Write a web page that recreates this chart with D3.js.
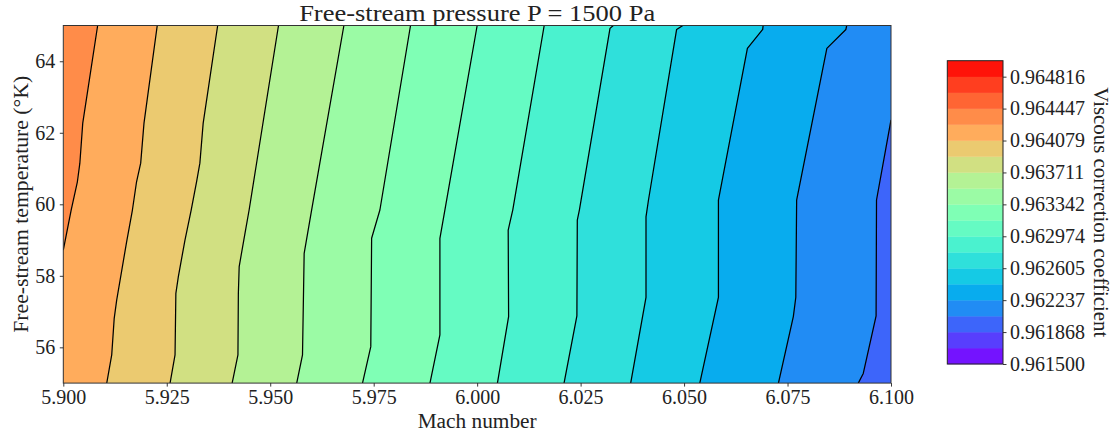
<!DOCTYPE html>
<html>
<head>
<meta charset="utf-8">
<script src="https://cdn.jsdelivr.net/npm/d3@7"></script>
<style>
  html, body { margin: 0; padding: 0; background: #fff; }
  svg text { font-family: "Liberation Serif", "Times New Roman", Times, serif !important; fill: #222; }
</style>
</head>
<body>
<svg id="chart" width="1118" height="438"></svg>
<script>
// ---------- data ----------
const xTicks = [5.900, 5.925, 5.950, 5.975, 6.000, 6.025, 6.050, 6.075, 6.100];
const yTicks = [56, 58, 60, 62, 64];
const levels = [0.9615, 0.9616842, 0.9618684, 0.9620526, 0.9622368, 0.9624211, 0.9626053,
  0.9627895, 0.9629737, 0.9631579, 0.9633421, 0.9635263, 0.9637105, 0.9638947,
  0.9640789, 0.9642632, 0.9644474, 0.9646316, 0.9648158, 0.9650];
const cbTickLabels = ["0.961500", "0.961868", "0.962237", "0.962605", "0.962974",
  "0.963342", "0.963711", "0.964079", "0.964447", "0.964816"];
const topBand = 15; // band index filling the upper-left corner

// contour lines: level index and [Mach, T] points
const lineLevels = [15, 14, 13, 12, 11, 10, 9, 8, 7, 6, 5, 4, 3];
const linePoints = [
  [[5.9083,65],[5.9047,62.27],[5.9040,61.15],[5.9034,60.63],[5.9019,59.84],[5.9000,58.72]],
  [[5.9227,65],[5.9195,62.27],[5.9187,61.15],[5.9177,60.63],[5.9167,59.84],[5.9153,58.95],[5.9129,57.32],[5.9123,56.81],[5.9117,55.79],[5.9105,55]],
  [[5.9373,65],[5.9338,62.27],[5.9330,61.15],[5.9322,60.63],[5.9309,59.84],[5.9294,59.00],[5.9278,57.98],[5.9272,57.51],[5.9270,55.79],[5.9258,55]],
  [[5.9520,65],[5.9449,59.84],[5.9439,59.19],[5.9425,58.26],[5.9423,57.51],[5.9422,55.79],[5.9408,55]],
  [[5.9678,65],[5.9600,59.84],[5.9582,58.63],[5.9578,55.79],[5.9564,55]],
  [[5.9839,65],[5.9765,59.84],[5.9745,59.05],[5.9743,56.02],[5.9723,55]],
  [[6.0000,65],[5.9922,59.84],[5.9910,59.05],[5.9910,56.35],[5.9886,55]],
  [[6.0162,65],[6.0086,59.84],[6.0075,59.28],[6.0076,56.86],[6.0049,55]],
  [[6.0329,65],[6.0321,64.92],[6.0247,59.84],[6.0242,59.56],[6.0241,56.88],[6.0210,55]],
  [[6.0497,65],[6.0482,64.89],[6.0414,60.12],[6.0408,59.65],[6.0408,57.40],[6.0371,55]],
  [[6.0691,65],[6.0690,64.89],[6.0653,64.36],[6.0583,60.12],[6.0583,57.40],[6.0538,55]],
  [[6.0893,65],[6.0891,64.89],[6.0845,64.36],[6.0772,60.12],[6.0770,57.40],[6.0764,56.86],[6.0728,55]],
  [[6.1000,62.36],[6.0965,60.12],[6.0964,56.88],[6.0933,55.27],[6.0921,55]]
];

// ---------- colormap (matplotlib "rainbow") ----------
function rainbow(t) {
  t = Math.floor(t * 255.999) / 255;
  const c = v => Math.round(Math.max(0, Math.min(1, v)) * 255);
  return `rgb(${c(Math.abs(2 * t - 0.5))},${c(Math.sin(Math.PI * t))},${c(Math.cos(Math.PI * t / 2))})`;
}
const lmin = levels[0], lmax = levels[levels.length - 1];
const bandColor = i => rainbow(((levels[i] + levels[i + 1]) / 2 - lmin) / (lmax - lmin));

const SERIF = "'Liberation Serif', 'Times New Roman', Times, serif";

// ---------- layout ----------
const svg = d3.select("#chart");
const L = 63.3, R = 891, T = 25.5, B = 383.1;
const x = d3.scaleLinear().domain([5.9, 6.1]).range([L, R]);
const y = d3.scaleLinear().domain([55, 65]).range([B, T]);

svg.append("defs").append("clipPath").attr("id", "plotclip")
  .append("rect").attr("x", L).attr("y", T).attr("width", R - L).attr("height", B - T);

const plot = svg.append("g").attr("clip-path", "url(#plotclip)");
plot.append("rect").attr("x", L).attr("y", T).attr("width", R - L).attr("height", B - T)
  .attr("fill", bandColor(topBand));

const line = d3.line().x(d => x(d[0])).y(d => y(d[1]));
lineLevels.forEach((lev, i) => {
  const pts = linePoints[i];
  const first = pts[0], last = pts[pts.length - 1];
  const poly = pts.concat([[last[0], 54], [6.2, 54], [6.2, 66], [first[0], 66]]);
  plot.append("path").attr("d", line(poly) + "Z").attr("fill", bandColor(lev - 1))
    .attr("stroke", bandColor(lev - 1)).attr("stroke-width", 0.5);
});
lineLevels.forEach((lev, i) => {
  plot.append("path").attr("d", line(linePoints[i])).attr("fill", "none")
    .attr("stroke", "#000").attr("stroke-width", 1.25).attr("stroke-linejoin", "round");
});

// frame
svg.append("rect").attr("x", L).attr("y", T).attr("width", R - L).attr("height", B - T)
  .attr("fill", "none").attr("stroke", "#333").attr("stroke-width", 1);

// axes
const fmt3 = d3.format(".3f");
const xAxis = svg.append("g").attr("transform", `translate(0,${B})`)
  .call(d3.axisBottom(x).tickValues(xTicks).tickFormat(fmt3).tickSize(3.5).tickPadding(3.5));
const yAxis = svg.append("g").attr("transform", `translate(${L},0)`)
  .call(d3.axisLeft(y).tickValues(yTicks).tickSize(3.5).tickPadding(4.5));
[xAxis, yAxis].forEach(g => {
  g.attr("font-family", null).attr("font-size", null);
  g.select(".domain").remove();
  g.selectAll("line").attr("stroke", "#222").attr("stroke-width", 0.9);
  g.selectAll("text").style("font-size", "20px").style("font-family", SERIF).attr("fill", "#222");
});

// title & labels
svg.append("text").attr("x", (L + R) / 2).attr("y", 21).attr("text-anchor", "middle")
  .style("font-size", "24px").style("font-family", SERIF)
  .attr("textLength", 356).attr("lengthAdjust", "spacingAndGlyphs")
  .text("Free-stream pressure P = 1500 Pa");
svg.append("text").attr("x", (L + R) / 2).attr("y", 428).attr("text-anchor", "middle")
  .style("font-size", "20px").style("font-family", SERIF)
  .attr("textLength", 119).attr("lengthAdjust", "spacingAndGlyphs")
  .text("Mach number");
svg.append("text").attr("transform", `translate(27.5,${(T + B) / 2}) rotate(-90)`)
  .attr("text-anchor", "middle").style("font-size", "20px").style("font-family", SERIF)
  .attr("textLength", 257).attr("lengthAdjust", "spacingAndGlyphs")
  .text("Free-stream temperature (°K)");

// colorbar
const cbL = 947.3, cbR = 1003, cbT = 60.7, cbB = 364;
const cy = d3.scaleLinear().domain([lmin, lmax]).range([cbB, cbT]);
const cb = svg.append("g");
d3.range(levels.length - 1).forEach(i => {
  cb.append("rect").attr("x", cbL).attr("width", cbR - cbL)
    .attr("y", cy(levels[i + 1])).attr("height", cy(levels[i]) - cy(levels[i + 1]) + 0.3)
    .attr("fill", bandColor(i));
});
cb.append("rect").attr("x", cbL).attr("y", cbT).attr("width", cbR - cbL).attr("height", cbB - cbT)
  .attr("fill", "none").attr("stroke", "#222").attr("stroke-width", 1);
const cbTickVals = levels.filter((d, i) => i % 2 === 0 && i < levels.length - 1);
const cbAxis = svg.append("g").attr("transform", `translate(${cbR},0)`)
  .call(d3.axisRight(cy).tickValues(cbTickVals).tickFormat((d, i) => cbTickLabels[i]).tickSize(3.5).tickPadding(3.5));
cbAxis.attr("font-family", null).attr("font-size", null);
cbAxis.select(".domain").remove();
cbAxis.selectAll("line").attr("stroke", "#222").attr("stroke-width", 0.9);
cbAxis.selectAll("text").style("font-size", "20px").style("font-family", SERIF).attr("fill", "#222");

svg.append("text").attr("transform", `translate(1094,${(cbT + cbB) / 2}) rotate(90)`)
  .attr("text-anchor", "middle").style("font-size", "20px").style("font-family", SERIF)
  .attr("textLength", 250).attr("lengthAdjust", "spacingAndGlyphs")
  .text("Viscous correction coefficient");
</script>
</body>
</html>
